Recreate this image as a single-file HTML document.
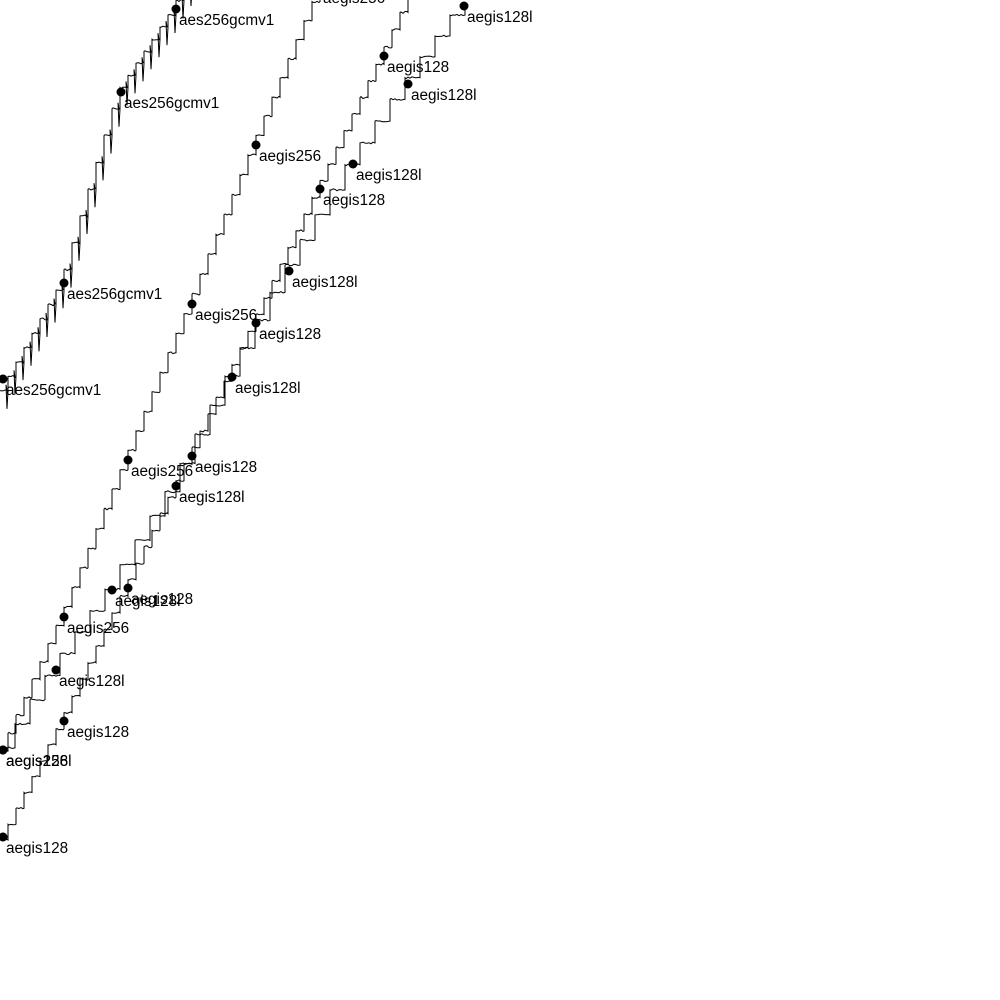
<!DOCTYPE html>
<html><head><meta charset="utf-8"><style>
html,body{margin:0;padding:0;background:#fff;width:1000px;height:1000px;overflow:hidden}
svg text{font-family:"Liberation Sans",Arial,sans-serif;font-size:15.3px;fill:#000}
</style></head><body>
<svg id="s" width="1000" height="1000" xmlns="http://www.w3.org/2000/svg">
<g id="lines" fill="none" stroke="#000" stroke-width="1"></g>
<g id="marks"></g>
</svg>
<script>
var lines=[
 {a:[[0,398],[64,283],[121,92],[176,9],[186,-12]],w:8,spike:1,dots:[[3,379,'aes256gcmv1'],[64,283,'aes256gcmv1'],[121,92,'aes256gcmv1'],[176,9,'aes256gcmv1']]},
 {a:[[0,760],[64,617],[128,460],[192,304],[256,145],[320,-8],[330,-30]],w:8,dots:[[3,750,'aegis256'],[64,617,'aegis256'],[128,460,'aegis256'],[192,304,'aegis256'],[256,145,'aegis256'],[320,-13,'aegis256']]},
 {a:[[0,848],[64,721],[128,588],[192,456],[256,323],[320,189],[384,56],[412,-5]],w:8,dots:[[3,837,'aegis128'],[64,721,'aegis128'],[128,588,'aegis128'],[192,456,'aegis128'],[256,323,'aegis128'],[320,189,'aegis128'],[384,56,'aegis128']]},
 {a:[[0,760],[56,670],[112,590],[176,486],[232,377],[289,271],[353,164],[408,84],[464,6]],w:15,dots:[[3,750,'aegis128l'],[56,670,'aegis128l'],[112,590,'aegis128l'],[176,486,'aegis128l'],[232,377,'aegis128l'],[289,271,'aegis128l'],[353,164,'aegis128l'],[408,84,'aegis128l'],[464,6,'aegis128l']]}
];
function yAt(a,x){for(var i=0;i<a.length-1;i++){if(x<=a[i+1][0]){var t=(x-a[i][0])/(a[i+1][0]-a[i][0]);return a[i][1]+t*(a[i+1][1]-a[i][1]);}}return a[a.length-1][1];}
var NS="http://www.w3.org/2000/svg",g=document.getElementById('lines'),m=document.getElementById('marks');
var seed=7;function r(){seed=(seed*9301+49297)%233280;return seed/233280;}
lines.forEach(function(L){
 var a=L.a,end=a[a.length-1][0],d='',w=L.w;
 for(var x=0;x<end;x+=w){
  var y=yAt(a,x+w/2);
  d+=(x==0?'M':'L')+x+','+y.toFixed(1);
  for(var k=1;k<w;k+=2){d+='L'+(x+k)+','+(y+(r()-0.5)*2).toFixed(1);}
  if(L.spike){d+='L'+(x+w-2)+','+(y-6)+'L'+(x+w-1)+','+(y+18);}
  d+='L'+(x+w)+','+y.toFixed(1);
  var y2=yAt(a,x+w*1.5);
  d+='L'+(x+w)+','+y2.toFixed(1);
 }
 var p=document.createElementNS(NS,'path');p.setAttribute('d',d);g.appendChild(p);
 L.dots.forEach(function(D){
  var c=document.createElementNS(NS,'circle');c.setAttribute('cx',D[0]);c.setAttribute('cy',D[1]);c.setAttribute('r',4.5);m.appendChild(c);
  var t=document.createElementNS(NS,'text');t.setAttribute('x',D[0]+3);t.setAttribute('y',D[1]+16);t.textContent=D[2];m.appendChild(t);
 });
});
</script>
</body></html>
